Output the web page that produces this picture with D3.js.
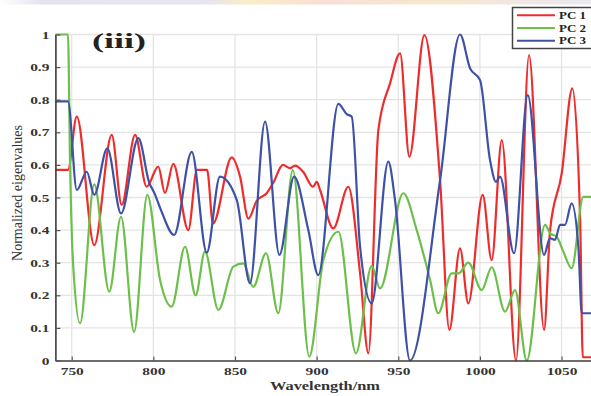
<!DOCTYPE html>
<html>
<head>
<meta charset="utf-8">
<script src="https://cdn.jsdelivr.net/npm/d3@7"></script>
<style>
body { margin: 0; background: #fff; }
svg { display: block; }
text { font-family: "Liberation Serif", "DejaVu Serif", serif; }
</style>
</head>
<body>
<div id="chart"></div>
<script>
// values (wavelength in nm, normalized eigenvalue)
var pc1Wave = [740, 747.7, 753.1, 763.8, 774.5, 780.6, 788.8, 795.9, 803.0, 807.1, 812.2, 821.4, 826.7, 832.9, 836.5,
    848.0, 853.1, 858.2, 863.3, 869.4, 873.3, 879.4, 883.7, 886.8, 891.7, 897.8, 900.1, 902.1, 910.2, 919.4,
    926.6, 931.7, 937.8, 945.0, 951.1, 956.8, 966.0, 975.6, 981.3, 987.8, 992.9, 1001.7, 1007.2, 1013.4,
    1022.1, 1030.1, 1039.3, 1043.0, 1050.1, 1056.6, 1061.4, 1063.0, 1070];
var pc1Value = [0.585, 0.585, 0.748, 0.354, 0.692, 0.477, 0.692, 0.533, 0.595, 0.514, 0.603, 0.40, 0.585, 0.585, 0.42,
    0.623, 0.564, 0.435, 0.49, 0.513, 0.544, 0.60, 0.59, 0.598, 0.579, 0.533, 0.548, 0.523, 0.405, 0.533,
    0.268, 0.022, 0.707, 0.851, 0.942, 0.625, 0.998, 0.553, 0.094, 0.344, 0.175, 0.508, 0.308, 0.676,
    0.0, 0.937, 0.094, 0.40, 0.574, 0.835, 0.43, 0.01, 0.01];

var pc2Wave = [740, 747.7, 749.0, 750.8, 755.1, 763.8, 773.0, 780.2, 788.2, 796.3, 804.1, 811.2, 819.4, 825.9, 831.6,
    839.8, 849.0, 855.1, 861.2, 869.0, 876.5, 885.4, 895.5, 904.1, 913.3, 924.1, 933.7, 938.8, 953.1,
    961.3, 969.5, 974.5, 982.7, 986.8, 992.9, 1001.1, 1007.2, 1015.4, 1021.5, 1028.7, 1039.9, 1043.0,
    1047.0, 1051.1, 1056.2, 1063.3, 1070];
var pc2Value = [1, 1, 0.6, 0.3, 0.114, 0.54, 0.211, 0.441, 0.088, 0.508, 0.247, 0.165, 0.349, 0.20, 0.334,
    0.155, 0.288, 0.298, 0.226, 0.329, 0.145, 0.584, 0.012, 0.308, 0.395, 0.022, 0.29, 0.221, 0.513,
    0.40, 0.247, 0.145, 0.267, 0.267, 0.30, 0.216, 0.286, 0.15, 0.216, 0.0, 0.416, 0.39,
    0.38, 0.334, 0.283, 0.502, 0.502];

var pc3Wave = [740, 747.7, 753.1, 759.2, 763.8, 771.8, 780.2, 790.8, 797.5, 800.5, 804.6, 812.7, 823.5, 832.7, 840.8,
    851.1, 859.2, 868.4, 877.2, 886.2, 894.9, 901.0, 913.3, 918.4, 921.5, 926.6, 933.7, 943.9, 948.0,
    957.2, 975.6, 987.8, 994.0, 1000.1, 1006.2, 1009.9, 1012.3, 1020.9, 1029.3, 1039.3, 1042.9, 1046.0,
    1049.1, 1052.1, 1056.2, 1060.3, 1062.4, 1070];
var pc3Value = [0.795, 0.795, 0.523, 0.579, 0.508, 0.651, 0.451, 0.682, 0.545, 0.515, 0.462, 0.385, 0.64, 0.331, 0.564,
    0.492, 0.237, 0.733, 0.324, 0.564, 0.40, 0.262, 0.787, 0.756, 0.748, 0.349, 0.175, 0.61, 0.492,
    0.0, 0.553, 1.0, 0.896, 0.86, 0.615, 0.548, 0.564, 0.329, 0.814, 0.324, 0.375, 0.37,
    0.416, 0.416, 0.482, 0.349, 0.145, 0.145];

var seriesNames = ["PC 1", "PC 2", "PC 3"];
var xTicks = [750, 800, 850, 900, 950, 1000, 1050];
var yTicks = [0, 0.1, 0.2, 0.3, 0.4, 0.5, 0.6, 0.7, 0.8, 0.9, 1];
var yTickLabels = ["0", "0.1", "0.2", "0.3", "0.4", "0.5", "0.6", "0.7", "0.8", "0.9", "1"];

var colors = ["#ee2c2c", "#6cc04a", "#3d51a6"];

var width = 591, height = 396;

var svg = d3.select("#chart").append("svg")
    .attr("width", width)
    .attr("height", height);

// faint band at the very top of the scan
var grad = svg.append("defs").append("linearGradient").attr("id", "band");
[[0, "#ffffff"], [0.07, "#dcdded"], [0.35, "#e2deec"], [0.42, "#f8e9b8"], [0.55, "#f6d6cc"],
 [0.75, "#f4e2c4"], [1, "#e6e2ee"]].forEach(function(s) {
    grad.append("stop").attr("offset", s[0]).attr("stop-color", s[1]);
});
svg.append("rect").attr("x", 0).attr("y", 0).attr("width", width).attr("height", 4.5)
    .attr("fill", "url(#band)").attr("opacity", 0.8);

var x = d3.scaleLinear().domain([740, 1070]).range([55.4, 594.2]);
var y = d3.scaleLinear().domain([0, 1]).range([360.5, 34.5]);

// grid
svg.append("g").selectAll("line").data(xTicks).enter().append("line")
    .attr("x1", function(d) { return x(d); }).attr("x2", function(d) { return x(d); })
    .attr("y1", y(1)).attr("y2", y(0))
    .attr("stroke", "#e4e4e4").attr("stroke-width", 1.3);
svg.append("g").selectAll("line").data(yTicks.slice(1)).enter().append("line")
    .attr("x1", x(740)).attr("x2", width)
    .attr("y1", function(d) { return y(d); }).attr("y2", function(d) { return y(d); })
    .attr("stroke", "#e4e4e4").attr("stroke-width", 1.3);

// curves
var series = [
    { name: seriesNames[0], wave: pc1Wave, value: pc1Value },
    { name: seriesNames[1], wave: pc2Wave, value: pc2Value },
    { name: seriesNames[2], wave: pc3Wave, value: pc3Value }
];

var line = d3.line()
    .x(function(d) { return x(d[0]); })
    .y(function(d) { return y(d[1]); })
    .curve(d3.curveMonotoneX);

// draw order: red, green, blue on top
svg.append("g").selectAll("path").data(series).enter().append("path")
    .attr("d", function(s) { return line(s.wave.map(function(w, i) { return [w, s.value[i]]; })); })
    .attr("fill", "none")
    .attr("stroke", function(s, i) { return colors[i]; })
    .attr("stroke-width", 2.2)
    .attr("stroke-linejoin", "round");

// axes
var xAxis = d3.axisBottom(x).tickValues(xTicks).tickSize(-4).tickSizeOuter(0).tickPadding(5)
    .tickFormat(d3.format("d"));
var yAxis = d3.axisLeft(y).tickValues(yTicks).tickSize(-5).tickSizeOuter(0).tickPadding(6)
    .tickFormat(function(d, i) { return yTickLabels[i]; });

var gx = svg.append("g").attr("transform", "translate(0," + y(0) + ")").call(xAxis);
var gy = svg.append("g").attr("transform", "translate(" + x(740) + ",0)").call(yAxis);

[gx, gy].forEach(function(g) {
    g.select(".domain").attr("stroke", "#3c3c3c").attr("stroke-width", 1.6);
    g.selectAll(".tick line").attr("stroke", "#555").attr("stroke-width", 1.2);
    g.selectAll(".tick text")
        .style("font-family", "'Liberation Serif', serif")
        .style("font-weight", "bold")
        .style("font-size", "11px")
        .attr("fill", "#333")
        .each(function() {
            var w = this.getComputedTextLength();
            d3.select(this).attr("textLength", w * 1.4).attr("lengthAdjust", "spacingAndGlyphs");
        });
});
gx.selectAll(".tick text").attr("dy", "0.85em");

// axis titles
svg.append("text")
    .attr("x", 325).attr("y", 390)
    .attr("text-anchor", "middle")
    .attr("font-weight", "bold").attr("font-size", "13px")
    .attr("fill", "#333")
    .attr("textLength", 110).attr("lengthAdjust", "spacingAndGlyphs")
    .text("Wavelength/nm");

svg.append("text")
    .attr("transform", "translate(22,193) rotate(-90)")
    .attr("text-anchor", "middle")
    .attr("font-size", "14px")
    .attr("fill", "#333")
    .attr("textLength", 136).attr("lengthAdjust", "spacingAndGlyphs")
    .text("Normalized eigenvalues");

svg.append("text")
    .attr("x", 92).attr("y", 48)
    .attr("font-weight", "bold").attr("font-size", "22px")
    .attr("fill", "#222")
    .attr("textLength", 54).attr("lengthAdjust", "spacingAndGlyphs")
    .text("(iii)");

// legend
var legend = svg.append("g");
legend.append("rect")
    .attr("x", 512.5).attr("y", 7.5).attr("width", 90).attr("height", 41)
    .attr("fill", "#fff").attr("stroke", "#444").attr("stroke-width", 1.5);
var items = legend.selectAll("g.item").data(series).enter().append("g").attr("class", "item")
    .attr("transform", function(d, i) { return "translate(0," + (15.3 + i * 12.7) + ")"; });
items.append("line")
    .attr("x1", 517).attr("x2", 555)
    .attr("stroke", function(d, i) { return colors[i]; })
    .attr("stroke-width", 2);
items.append("text")
    .attr("x", 559).attr("y", 3.5)
    .attr("font-weight", "bold").attr("font-size", "10px")
    .attr("fill", "#222")
    .attr("textLength", 27).attr("lengthAdjust", "spacingAndGlyphs")
    .text(function(d) { return d.name; });
</script>
</body>
</html>
